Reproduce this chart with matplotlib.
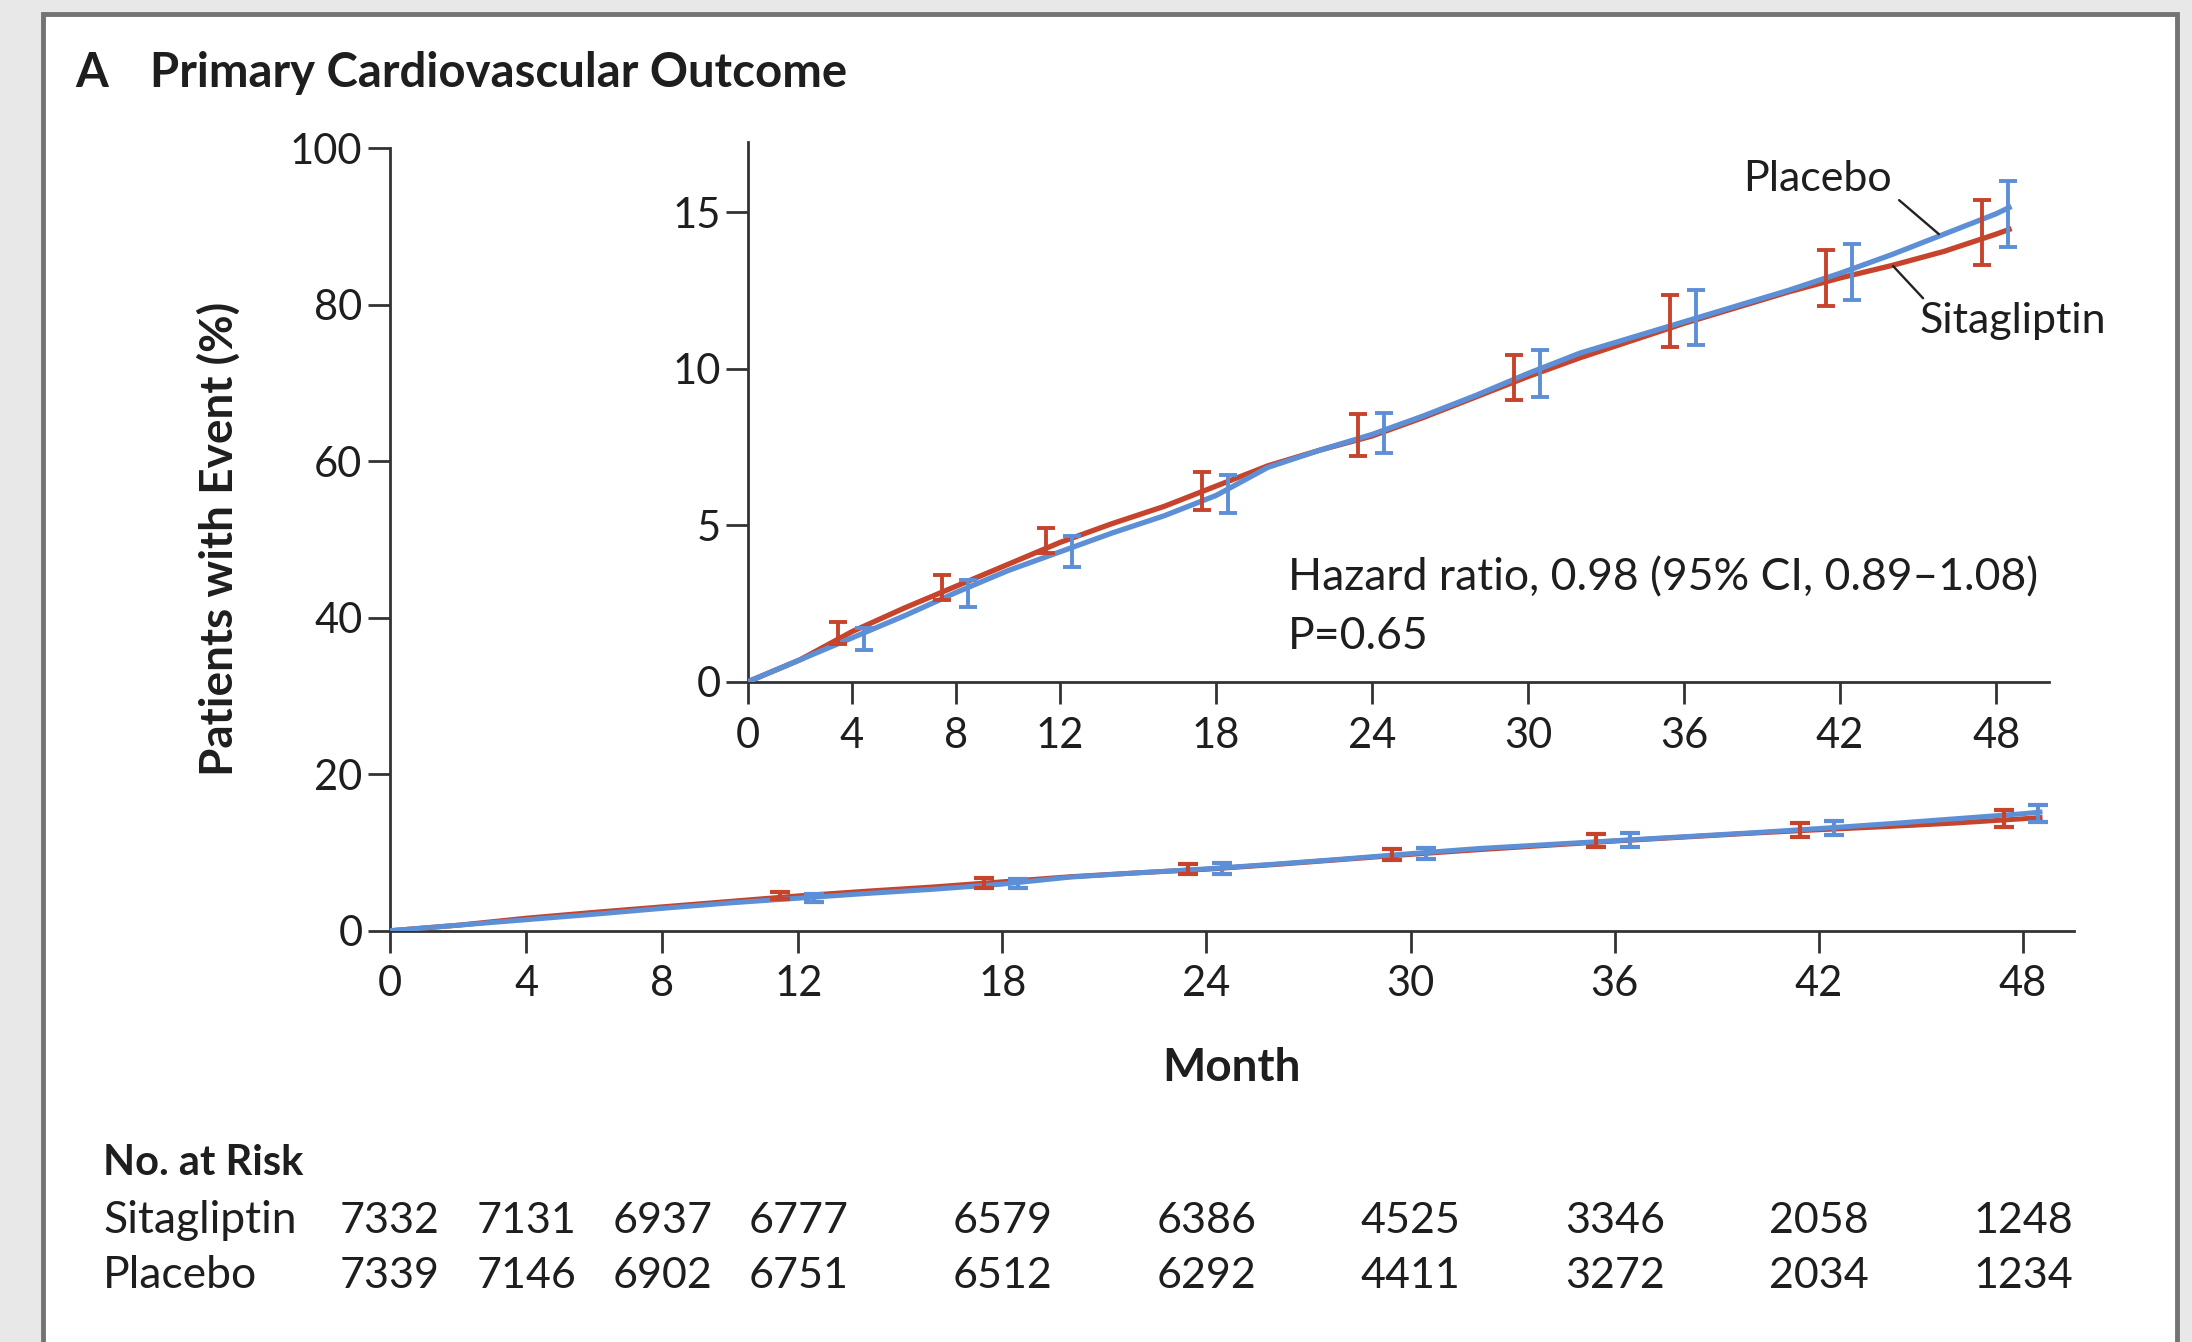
import matplotlib
matplotlib.use('Agg')
import matplotlib.pyplot as plt
from matplotlib.patches import Rectangle
from matplotlib.transforms import blended_transform_factory

plt.rcParams['font.family'] = ['Lato', 'DejaVu Sans']

# ---------------- data ----------------
months = [0, 2, 4, 6, 8, 10, 12, 14, 16, 18, 20, 22, 24, 26, 28, 30,
          32, 34, 36, 38, 40, 42, 44, 46, 48, 48.5]
sitagliptin_pct = [0, 0.7, 1.6, 2.35, 3.05, 3.75, 4.45, 5.05, 5.6, 6.25, 6.9,
                   7.4, 7.85, 8.45, 9.1, 9.75, 10.35, 10.9, 11.45, 11.95,
                   12.45, 12.9, 13.3, 13.75, 14.3, 14.45]
placebo_pct = [0, 0.7, 1.4, 2.1, 2.85, 3.55, 4.15, 4.75, 5.3, 5.95, 6.85,
               7.4, 7.9, 8.5, 9.15, 9.85, 10.5, 11.0, 11.5, 12.0, 12.5,
               13.05, 13.65, 14.3, 14.95, 15.15]

ci_months = [4, 8, 12, 18, 24, 30, 36, 42, 48]
sita_ci_low = [1.2, 2.6, 4.1, 5.5, 7.2, 9.0, 10.7, 12.0, 13.3]
sita_ci_high = [1.9, 3.4, 4.9, 6.7, 8.55, 10.45, 12.35, 13.8, 15.4]
plac_ci_low = [1.0, 2.4, 3.65, 5.4, 7.3, 9.1, 10.75, 12.2, 13.9]
plac_ci_high = [1.7, 3.25, 4.65, 6.6, 8.6, 10.6, 12.5, 14.0, 16.0]

xtick_months = [0, 4, 8, 12, 18, 24, 30, 36, 42, 48]
main_yticks = [0, 20, 40, 60, 80, 100]
inset_yticks = [0, 5, 10, 15]

risk_sitagliptin = [7332, 7131, 6937, 6777, 6579, 6386, 4525, 3346, 2058, 1248]
risk_placebo = [7339, 7146, 6902, 6751, 6512, 6292, 4411, 3272, 2034, 1234]

hazard_text = "Hazard ratio, 0.98 (95% CI, 0.89\u20131.08)"
p_text = "P=0.65"

# ---------------- style ----------------
RED = '#C6432C'
BLUE = '#5D8FD6'
AXC = '#333333'
TXT = '#1e1e1e'
W, H = 2192, 1342

fig = plt.figure(figsize=(W / 100, H / 100), dpi=100)
fig.patch.set_facecolor('#e8e8e8')
fig.patches.append(Rectangle((43 / W, -0.1), (2177 - 43) / W, 1.1 - 14 / H,
                             transform=fig.transFigure, facecolor='white',
                             edgecolor='#737373', linewidth=3.5, zorder=-5))


def style_axes(ax, xpad, ypad):
    for s in ('top', 'right'):
        ax.spines[s].set_visible(False)
    for s in ('left', 'bottom'):
        ax.spines[s].set_linewidth(2.0)
        ax.spines[s].set_color(AXC)
    ax.tick_params(axis='both', direction='out', length=15.5, width=2.0,
                   color=AXC, labelsize=30, labelcolor=TXT)
    ax.tick_params(axis='x', pad=xpad)
    ax.tick_params(axis='y', pad=ypad)


def draw_ci(ax, first, lw, cap):
    red_x = [m - 0.55 for m in ci_months[first:]]
    blue_x = [m + 0.45 for m in ci_months[first:]]
    for xs, lo, hi, col in ((red_x, sita_ci_low[first:], sita_ci_high[first:], RED),
                            (blue_x, plac_ci_low[first:], plac_ci_high[first:], BLUE)):
        mid = [(a + b) / 2 for a, b in zip(lo, hi)]
        err = [[m - a for m, a in zip(mid, lo)], [b - m for m, b in zip(mid, hi)]]
        ax.errorbar(xs, mid, yerr=err, fmt='none', ecolor=col, elinewidth=lw,
                    capsize=cap, capthick=lw, zorder=4)


# ---------------- main axes ----------------
ax = fig.add_axes([390 / W, 1 - 930.7 / H, (2074 - 390) / W, (930.7 - 148) / H])
ax.set_facecolor('none')
ax.set_zorder(1)
ax.set_xlim(0, 49.5)
ax.set_ylim(0, 100)
style_axes(ax, xpad=9, ypad=4.3)
ax.set_xticks(xtick_months)
ax.set_yticks(main_yticks)
ax.plot(months, sitagliptin_pct, color=RED, lw=3.6, zorder=3)
ax.plot(months, placebo_pct, color=BLUE, lw=3.6, zorder=3)
draw_ci(ax, 2, 3.0, 7)
ax.set_xlabel('Month', fontsize=33, fontweight='bold', color=TXT)
ax.xaxis.set_label_coords(0.5, -0.148)
ax.set_ylabel('Patients with Event (%)', fontsize=33, fontweight='bold', color=TXT)
ax.yaxis.set_label_coords(-0.0885, 0.5)

# ---------------- inset axes ----------------
axi = fig.add_axes([748 / W, 1 - 681.7 / H, (2049.4 - 748) / W, (681.7 - 141.5) / H])
axi.set_facecolor('none')
axi.set_zorder(2)
axi.set_xlim(0, 50.05)
axi.set_ylim(0, 17.26)
style_axes(axi, xpad=10, ypad=4.3)
axi.set_xticks(xtick_months)
axi.set_yticks(inset_yticks)
axi.plot(months, sitagliptin_pct, color=RED, lw=3.8, zorder=3)
axi.plot(months, placebo_pct, color=BLUE, lw=3.8, zorder=3)
draw_ci(axi, 0, 2.8, 6.8)

axi.text(20.75, 2.90, hazard_text, fontsize=32, color=TXT, ha='left', va='baseline')
axi.text(20.75, 1.04, p_text, fontsize=32, color=TXT, ha='left', va='baseline')

axi.annotate('Placebo', xy=(45.8, 14.3), xytext=(44.0, 15.68), fontsize=31,
             color=TXT, ha='right', va='baseline',
             arrowprops=dict(arrowstyle='-', lw=1.7, color='#222222',
                             relpos=(1.0, 0.1), shrinkA=4, shrinkB=0))
axi.annotate('Sitagliptin', xy=(44.04, 13.28), xytext=(45.04, 11.14), fontsize=31,
             color=TXT, ha='left', va='baseline',
             arrowprops=dict(arrowstyle='-', lw=1.7, color='#222222',
                             relpos=(0.04, 1.0), shrinkA=1, shrinkB=0))

# ---------------- title ----------------
fig.text(75 / W, 1 - 87 / H, 'A', fontsize=34, fontweight='bold', color=TXT,
         ha='left', va='baseline')
fig.text(150 / W, 1 - 87 / H, 'Primary Cardiovascular Outcome', fontsize=34,
         fontweight='bold', color=TXT, ha='left', va='baseline')

# ---------------- numbers at risk ----------------
fig.text(103 / W, 1 - 1175 / H, 'No. at Risk', fontsize=30, fontweight='bold',
         color=TXT, ha='left', va='baseline')
fig.text(103 / W, 1 - 1233.3 / H, 'Sitagliptin', fontsize=32, color=TXT,
         ha='left', va='baseline')
fig.text(103 / W, 1 - 1288 / H, 'Placebo', fontsize=32, color=TXT,
         ha='left', va='baseline')
trans = blended_transform_factory(ax.transData, fig.transFigure)
for m, a, b in zip(xtick_months, risk_sitagliptin, risk_placebo):
    ax.text(m, 1 - 1233.3 / H, str(a), transform=trans, fontsize=31, color=TXT,
            ha='center', va='baseline', clip_on=False)
    ax.text(m, 1 - 1288 / H, str(b), transform=trans, fontsize=31, color=TXT,
            ha='center', va='baseline', clip_on=False)

fig.savefig('out.png', dpi=100, facecolor=fig.get_facecolor())
